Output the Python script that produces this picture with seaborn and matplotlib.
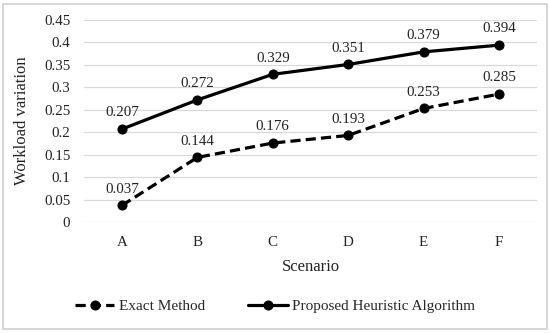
import matplotlib
matplotlib.use("Agg")
import matplotlib.pyplot as plt
import seaborn as sns
import pandas as pd
from matplotlib.patches import Rectangle

scenarios = ["A", "B", "C", "D", "E", "F"]
exact = [0.037, 0.144, 0.176, 0.193, 0.253, 0.285]
heuristic = [0.207, 0.272, 0.329, 0.351, 0.379, 0.394]
yticks = [0, 0.05, 0.1, 0.15, 0.2, 0.25, 0.3, 0.35, 0.4, 0.45]
ytick_labels = ["0", "0.05", "0.1", "0.15", "0.2", "0.25", "0.3", "0.35", "0.4", "0.45"]

sns.set_theme(style="white")
plt.rcParams["font.family"] = ["Liberation Serif", "DejaVu Serif"]

df = pd.DataFrame({
    "Scenario": scenarios * 2,
    "value": exact + heuristic,
    "Method": ["Exact Method"] * 6 + ["Proposed Heuristic Algorithm"] * 6,
})
df["x"] = df["Scenario"].map({s: i for i, s in enumerate(scenarios)})

fig = plt.figure(figsize=(5.5, 3.33), dpi=100)
ax = fig.add_axes([0.153, 0.333, 0.823, 0.607])

for y in yticks:
    ax.axhline(y, color="#d9d9d9", lw=0.9, zorder=0)

sns.lineplot(data=df, x="x", y="value", hue="Method", style="Method",
             palette=["black", "black"],
             dashes={"Exact Method": (3.2, 1.6), "Proposed Heuristic Algorithm": ""},
             markers={"Exact Method": "o", "Proposed Heuristic Algorithm": "o"},
             markersize=6.5, linewidth=2.3, markeredgecolor="black",
             ax=ax, legend=True)

fs = 10.8
for i in range(len(scenarios)):
    ax.annotate(f"{exact[i]:.3f}", (i, exact[i]), xytext=(0, 7), textcoords="offset points",
                ha="center", va="bottom", fontsize=fs, color="#222222")
    ax.annotate(f"{heuristic[i]:.3f}", (i, heuristic[i]), xytext=(0, 7), textcoords="offset points",
                ha="center", va="bottom", fontsize=fs, color="#222222")

ax.set_xlim(-0.5, 5.5)
ax.set_ylim(0, 0.45)
ax.set_xticks(range(len(scenarios)))
ax.set_xticklabels(scenarios, fontsize=fs, color="#222222")
ax.set_yticks(yticks)
ax.set_yticklabels(ytick_labels, fontsize=fs, color="#222222")
ax.tick_params(axis="both", length=0, pad=10)
for s in ax.spines.values():
    s.set_visible(False)
ax.set_xlabel("Scenario", fontsize=12, color="#222222", labelpad=7)
ax.set_ylabel("Workload variation", fontsize=12, color="#222222", labelpad=10)

handles, labels = ax.get_legend_handles_labels()
ax.legend(handles, labels, loc="center", bbox_to_anchor=(0.5, 0.08),
          bbox_transform=fig.transFigure, ncol=2, frameon=False, fontsize=11,
          handlelength=2.6, columnspacing=2.8, handletextpad=0.3)

fig.patches.append(Rectangle((0.006, 0.012), 0.988, 0.976, transform=fig.transFigure,
                             fill=False, edgecolor="#d0d0d0", lw=1.2))
fig.savefig("out.png", dpi=100)
